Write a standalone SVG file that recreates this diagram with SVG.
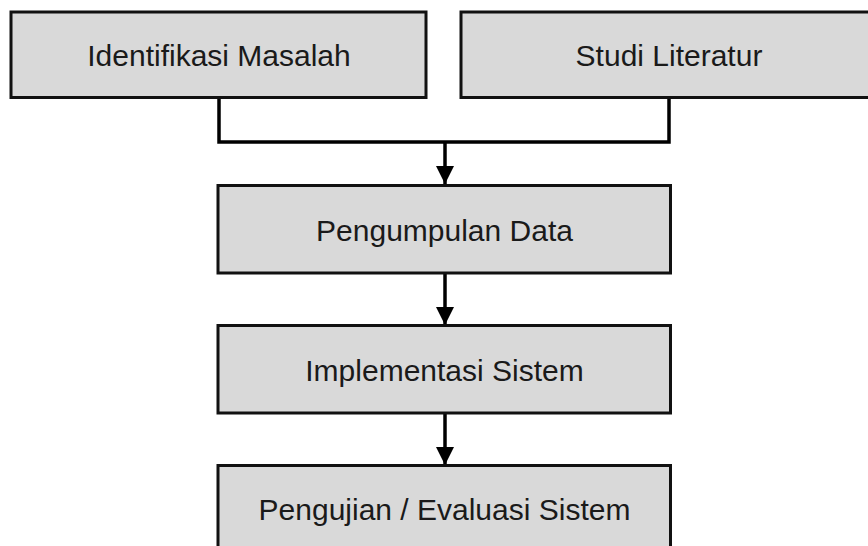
<svg xmlns="http://www.w3.org/2000/svg" width="868" height="546" viewBox="0 0 868 546">
<style>
.box{fill:#d9d9d9;stroke:#111;stroke-width:3}
.lbl{font-family:"Liberation Sans",Arial,sans-serif;font-size:30px;fill:#1a1a1a;text-anchor:middle}
.con{fill:none;stroke:#000;stroke-width:3.5}
</style>
<defs>
<marker id="ah" markerUnits="userSpaceOnUse" markerWidth="20" markerHeight="18" viewBox="0 0 20 18" refX="18" refY="9" orient="auto">
<path d="M0,0 L18,9 L0,18 Z" fill="#000"/>
</marker>
</defs>
<rect width="868" height="546" fill="#fff"/>
<g id="connectors">
<path class="con" d="M219,97 V142 H669 V97"/>
<path class="con" d="M445,142 V184" marker-end="url(#ah)"/>
<path class="con" d="M445,273 V325" marker-end="url(#ah)"/>
<path class="con" d="M445,413 V465" marker-end="url(#ah)"/>
</g>
<g id="n1"><rect class="box" x="11" y="12" width="415" height="85.5"/><text class="lbl" x="219" y="65.5">Identifikasi Masalah</text></g>
<g id="n2"><rect class="box" x="461" y="12" width="416" height="85.5"/><text class="lbl" x="669" y="65.5">Studi Literatur</text></g>
<g id="n3"><rect class="box" x="218" y="185.5" width="452.5" height="87.5"/><text class="lbl" x="444.5" y="240.5">Pengumpulan Data</text></g>
<g id="n4"><rect class="box" x="218" y="325.5" width="452.5" height="87.5"/><text class="lbl" x="444.5" y="380.5">Implementasi Sistem</text></g>
<g id="n5"><rect class="box" x="218" y="465.5" width="452.5" height="87.5"/><text class="lbl" x="444.5" y="520">Pengujian / Evaluasi Sistem</text></g>
</svg>
